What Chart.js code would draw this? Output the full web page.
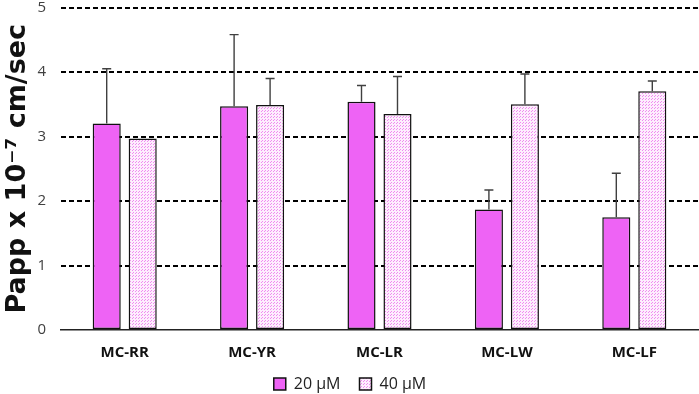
<!DOCTYPE html>
<html>
<head>
<meta charset="utf-8">
<script src="https://cdn.jsdelivr.net/npm/chart.js@4.4.1/dist/chart.umd.min.js"></script>
<style>
  html, body { margin: 0; padding: 0; background: #fff; }
  #wrap { width: 699px; height: 394px; }
</style>
</head>
<body>
<div id="wrap"><canvas id="papp" width="699" height="394"></canvas></div>
<script>
// data
const categories = ['MC-RR', 'MC-YR', 'MC-LR', 'MC-LW', 'MC-LF'];
const seriesNames = ['20 \u00B5M', '40 \u00B5M'];
const papp20 = [3.20, 3.47, 3.54, 1.87, 1.75];
const papp40 = [2.97, 3.49, 3.35, 3.50, 3.70];
const err20 = [0.85, 1.11, 0.25, 0.30, 0.68];
const err40 = [0.00, 0.41, 0.58, 0.47, 0.16];
const yTicks = [0, 1, 2, 3, 4, 5];

const FONT = '"Open Sans", Lato, sans-serif';

// dotted pink fill for the 40 uM bars
function dotPattern() {
    const c = document.createElement('canvas');
    c.width = 3; c.height = 3;
    const g = c.getContext('2d');
    g.fillStyle = '#fdeefd';
    g.fillRect(0, 0, 3, 3);
    g.fillStyle = '#f08cf0';
    g.fillRect(0, 0, 1, 1);
    g.fillRect(1, 2, 1, 1);
    return g.createPattern(c, 'repeat');
}

// upper error bars with a cap
const errorBars = {
    id: 'errorBars',
    afterDatasetsDraw(chart) {
        const ctx = chart.ctx;
        const y = chart.scales.y;
        chart.data.datasets.forEach((ds, i) => {
            const meta = chart.getDatasetMeta(i);
            meta.data.forEach((bar, j) => {
                const e = ds.errors[j];
                if (!e) return;
                const top = y.getPixelForValue(ds.data[j] + e);
                ctx.save();
                ctx.strokeStyle = '#404040';
                ctx.lineWidth = 1.4;
                ctx.beginPath();
                ctx.moveTo(bar.x, bar.y);
                ctx.lineTo(bar.x, top);
                ctx.moveTo(bar.x - 4.5, top);
                ctx.lineTo(bar.x + 4.5, top);
                ctx.stroke();
                ctx.restore();
            });
        });
    }
};

const ctx = document.getElementById('papp').getContext('2d');
const chart = new Chart(ctx, {
    type: 'bar',
    data: {
        labels: categories,
        datasets: [{
            label: seriesNames[0],
            data: papp20,
            errors: err20,
            backgroundColor: '#ee63f5',
            borderColor: '#111',
            borderWidth: 1.5,
            borderSkipped: false,
            categoryPercentage: 0.565,
            barPercentage: 0.78
        }, {
            label: seriesNames[1],
            data: papp40,
            errors: err40,
            backgroundColor: dotPattern(),
            borderColor: '#111',
            borderWidth: 1.5,
            borderSkipped: false,
            categoryPercentage: 0.565,
            barPercentage: 0.78
        }]
    },
    options: {
        responsive: false,
        animation: false,
        layout: { padding: { left: 2, right: 1, top: 0, bottom: -8 } },
        plugins: {
            tooltip: { enabled: false },
            legend: {
                position: 'bottom',
                labels: {
                    color: '#222',
                    font: { family: FONT, size: 16 },
                    boxWidth: 12,
                    boxHeight: 12,
                    padding: 19,
                    useBorderRadius: false
                }
            }
        },
        scales: {
            x: {
                grid: { display: false },
                border: { display: true, color: '#222', width: 1.5 },
                ticks: {
                    color: '#111',
                    padding: 5.5,
                    font: { family: FONT, size: 15, weight: 'bold' }
                },
                afterFit(s) { s.height = 27; }
            },
            y: {
                min: 0,
                max: 5,
                afterBuildTicks(s) { s.ticks = yTicks.map(v => ({ value: v })); },
                grid: {
                    color: c => c.tick.value === 0 ? 'rgba(0,0,0,0)' : '#000',
                    lineWidth: 2,
                    drawTicks: true,
                    tickLength: 15,
                    tickColor: 'rgba(0,0,0,0)'
                },
                border: { display: false, dash: [5, 3] },
                ticks: {
                    color: '#404040',
                    padding: 0,
                    font: { family: FONT, size: 15, lineHeight: 1 }
                },
                title: {
                    display: true,
                    text: 'Papp x 10\u207B\u2077 cm/sec',
                    color: '#111',
                    padding: { top: 0, bottom: 2 },
                    font: { family: '"DejaVu Sans", sans-serif', size: 27, weight: 'bold' }
                },
                afterFit(s) { s.width = 59; }
            }
        }
    },
    plugins: [errorBars]
});
</script>
</body>
</html>
